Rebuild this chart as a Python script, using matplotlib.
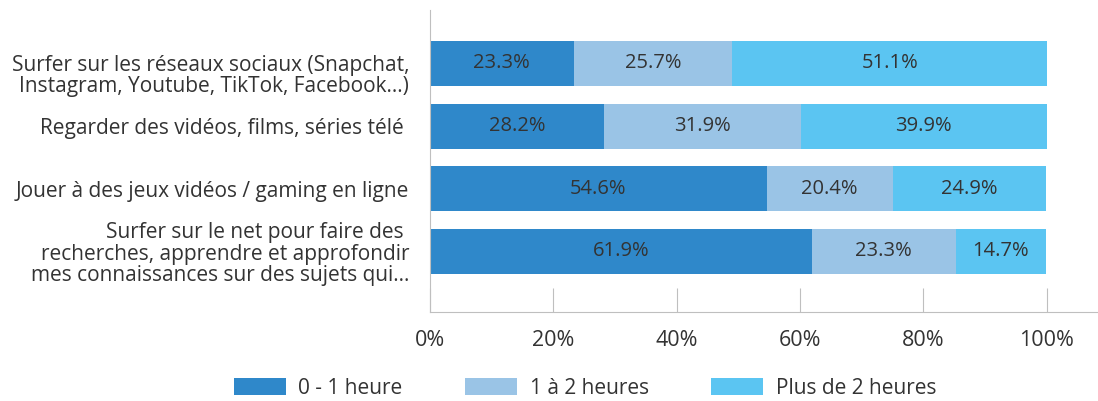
import matplotlib.pyplot as plt
import matplotlib.transforms as mtransforms

plt.rcParams['font.family'] = ['Open Sans', 'DejaVu Sans']

# Activities and share of time spent per category (%)
activities = [
    "Surfer sur les réseaux sociaux (Snapchat,\nInstagram, Youtube, TikTok, Facebook...)",
    "Regarder des vidéos, films, séries télé ",
    "Jouer à des jeux vidéos / gaming en ligne",
    "Surfer sur le net pour faire des \nrecherches, apprendre et approfondir\nmes connaissances sur des sujets qui...",
]
series_names = ["0 - 1 heure", "1 à 2 heures", "Plus de 2 heures"]
low = [23.3, 28.2, 54.6, 61.9]
mid = [25.7, 31.9, 20.4, 23.3]
high = [51.1, 39.9, 24.9, 14.7]
xticks = [0, 20, 40, 60, 80, 100]

colors = ["#2F88CA", "#9AC4E6", "#5BC5F2"]
text_color = "#333333"
axis_color = "#BFBFBF"

fig = plt.figure(figsize=(10.98, 4.01), dpi=100)
ax = fig.add_axes([0.3916, 0.222, 0.6084, 0.753])

ypos = list(range(len(activities)))
left = [0.0] * len(activities)
for name, vals, col in zip(series_names, [low, mid, high], colors):
    bars = ax.barh(ypos, vals, left=left, height=0.72, color=col, label=name)
    for b, v in zip(bars, vals):
        ax.text(b.get_x() + b.get_width() / 2, b.get_y() + b.get_height() / 2,
                f"{v:.1f}%", ha='center', va='center', fontsize=14.5,
                color=text_color)
    left = [l + v for l, v in zip(left, vals)]

ax.set_xlim(0, 108.3)
ax.set_ylim(3.965, -0.853)
ax.set_yticks(ypos)
ax.set_yticklabels(activities, fontsize=15, color=text_color, linespacing=1.02)
ax.set_xticks(xticks)
ax.set_xticklabels([f"{t}%" for t in xticks], fontsize=15.5, color=text_color)

ax.tick_params(axis='y', length=0, pad=15)
ax.tick_params(axis='x', direction='in', length=17, color=axis_color, pad=13)

# the two-line first label sits a little lower than its bar
first = ax.get_yticklabels()[0]
first.set_transform(first.get_transform() +
                    mtransforms.ScaledTranslation(0, -10 / 100, fig.dpi_scale_trans))

for side in ['top', 'right']:
    ax.spines[side].set_visible(False)
for side in ['left', 'bottom']:
    ax.spines[side].set_color(axis_color)

fig.legend(loc='center', bbox_to_anchor=(585 / 1098, 1 - 388 / 401), ncol=3,
           frameon=False, fontsize=15, handlelength=2.5, handleheight=0.85,
           handletextpad=0.6, columnspacing=3.0, labelcolor=text_color)

fig.savefig('out.png', dpi=100)
